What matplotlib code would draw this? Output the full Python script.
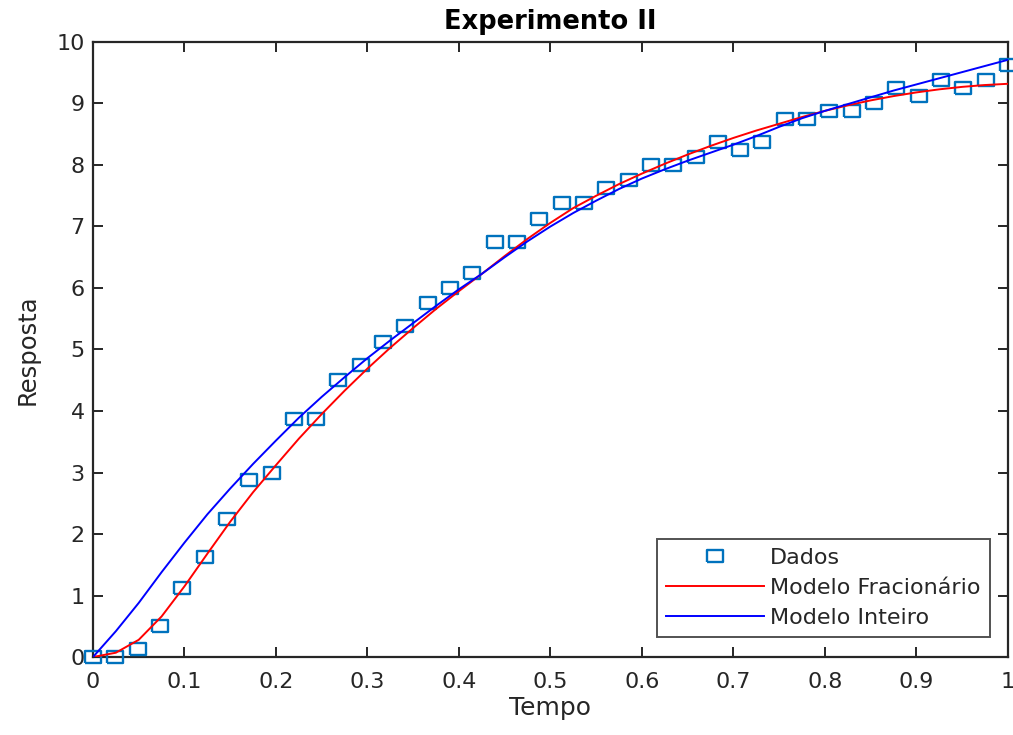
import numpy as np
import matplotlib
matplotlib.use("Agg")
import matplotlib.pyplot as plt

# Data
dados = [0, 0, 0.125, 0.5, 1.125, 1.625, 2.25, 2.875, 3.0, 3.875, 3.875, 4.5, 4.75,
         5.125, 5.375, 5.75, 6.0, 6.25, 6.75, 6.75, 7.125, 7.375, 7.375, 7.625, 7.75,
         8.0, 8.0, 8.125, 8.375, 8.25, 8.375, 8.75, 8.75, 8.875, 8.875, 9.0, 9.25,
         9.125, 9.375, 9.25, 9.375, 9.625]
t_dados = np.linspace(0, 1, len(dados))

t_modelo = [0, 0.025, 0.05, 0.075, 0.1, 0.125, 0.15, 0.175, 0.2, 0.225, 0.25, 0.275,
            0.3, 0.325, 0.35, 0.375, 0.4, 0.425, 0.45, 0.475, 0.5, 0.525, 0.55, 0.575,
            0.6, 0.625, 0.65, 0.675, 0.7, 0.725, 0.75, 0.775, 0.8, 0.825, 0.85, 0.875,
            0.9, 0.925, 0.95, 0.975, 1.0]
modelo_fracionario = [0, 0.07, 0.28, 0.66, 1.15, 1.68, 2.2, 2.68, 3.12, 3.55, 3.95, 4.33,
                      4.69, 5.03, 5.35, 5.66, 5.95, 6.23, 6.52, 6.8, 7.06, 7.3, 7.5, 7.69,
                      7.86, 8.02, 8.17, 8.31, 8.44, 8.56, 8.67, 8.78, 8.88, 8.97, 9.05, 9.12,
                      9.18, 9.23, 9.27, 9.3, 9.32]
modelo_inteiro = [0, 0.42, 0.88, 1.38, 1.86, 2.32, 2.74, 3.14, 3.52, 3.89, 4.23, 4.55,
                  4.86, 5.15, 5.43, 5.71, 5.98, 6.23, 6.5, 6.76, 7.0, 7.22, 7.42, 7.61,
                  7.78, 7.93, 8.07, 8.2, 8.33, 8.47, 8.62, 8.76, 8.88, 8.99, 9.1, 9.21,
                  9.31, 9.41, 9.51, 9.61, 9.71]

xticks = [0, 0.1, 0.2, 0.3, 0.4, 0.5, 0.6, 0.7, 0.8, 0.9, 1]
xticklabels = ["0", "0.1", "0.2", "0.3", "0.4", "0.5", "0.6", "0.7", "0.8", "0.9", "1"]
yticks = list(range(0, 11))

plt.rcParams['font.family'] = ['DejaVu Sans']

fig = plt.figure(figsize=(10.13, 7.35), dpi=100)
ax = fig.add_axes([0.0918, 0.1061, 0.9032, 0.8368])

axcol = '#262626'
# slightly wide rectangle marker (reference image is horizontally stretched)
rect = [(-1.0, -0.75), (1.0, -0.75), (1.0, 0.75), (-1.0, 0.75), (-1.0, -0.75)]
ax.plot(t_dados, dados, linestyle='none', marker=rect, markersize=11,
        markerfacecolor='none', markeredgecolor='#0072BD', markeredgewidth=1.7,
        label='Dados', clip_on=False, zorder=3)
ax.plot(t_modelo, modelo_fracionario, color='#FF0000', linewidth=1.4,
        label='Modelo Fracionário', zorder=4)
ax.plot(t_modelo, modelo_inteiro, color='#0000FF', linewidth=1.4,
        label='Modelo Inteiro', zorder=4)

ax.set_xlim(0, 1)
ax.set_ylim(0, 10)
ax.set_xticks(xticks)
ax.set_xticklabels(xticklabels)
ax.set_yticks(yticks)
ax.tick_params(direction='in', length=7, width=1.4, colors=axcol,
               labelsize=16, top=True, right=True, labelcolor=axcol)
ax.tick_params(axis='x', pad=11)
ax.tick_params(axis='y', pad=6)
for s in ax.spines.values():
    s.set_color(axcol)
    s.set_linewidth(1.6)

ax.set_xlabel('Tempo', fontsize=18, color=axcol, labelpad=3)
ax.set_ylabel('Resposta', fontsize=17.5, color=axcol, labelpad=12)
ax.set_title('Experimento II', fontsize=18.5, fontweight='bold', color='black', pad=9)

leg = ax.legend(loc='lower right', fontsize=16, frameon=True, fancybox=False,
                edgecolor=axcol, borderpad=0.4, handlelength=4.4, handletextpad=0.3,
                labelspacing=0.45, borderaxespad=0.0,
                bbox_to_anchor=(0.980, 0.033))
leg.get_frame().set_linewidth(1.4)
for txt in leg.get_texts():
    txt.set_color(axcol)

fig.savefig('out.png', dpi=100)
